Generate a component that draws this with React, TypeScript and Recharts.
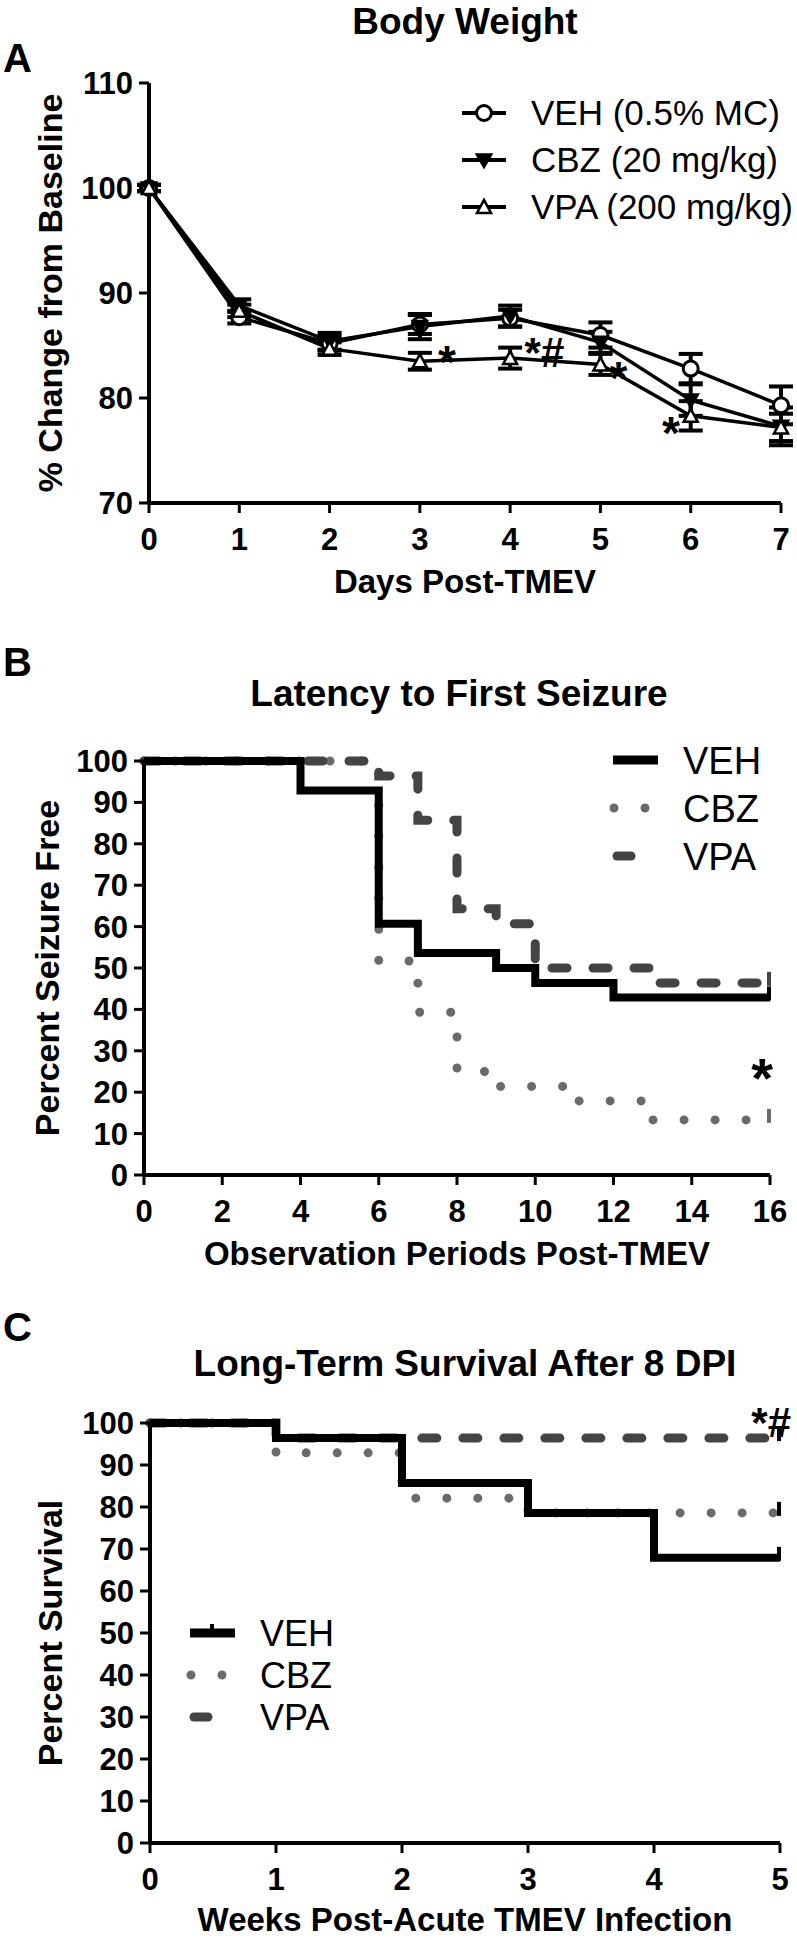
import React from "react";
import { ComposedChart, LineChart, Line, XAxis, YAxis, ErrorBar, Label, Legend, ReferenceDot } from "recharts";

const FONT = '"Liberation Sans", Arial, Helvetica, sans-serif';

// Panel A - body weight
const days = [0, 1, 2, 3, 4, 5, 6, 7];
const vehWeight = [100, 87.7, 85.2, 87.0, 87.6, 86.0, 82.8, 79.3];
const vehWeightErr = [0.3, 0.6, 0.7, 0.9, 0.8, 1.2, 1.4, 1.8];
const cbzWeight = [100, 88.8, 85.4, 86.8, 87.8, 85.3, 79.8, 77.3];
const cbzWeightErr = [0.3, 0.6, 0.8, 1.2, 1.0, 1.0, 1.5, 1.8];
const vpaWeight = [100, 88.3, 84.7, 83.5, 83.8, 83.2, 78.3, 77.2];
const vpaWeightErr = [0.3, 0.6, 0.6, 0.8, 1.0, 1.0, 1.4, 1.3];
const weightTicks = [70, 80, 90, 100, 110];

// Panel B - latency to first seizure (Kaplan-Meier steps)
const periodTicks = [0, 2, 4, 6, 8, 10, 12, 14, 16];
const vehPeriods = [0, 4, 6, 7, 9, 10, 12, 16];
const vehSeizureFree = [100, 92.9, 60.7, 53.6, 50, 46.4, 42.9, 42.9];
const cbzPeriods = [0, 6, 7, 8, 9, 11, 13, 16];
const cbzSeizureFree = [100, 51.7, 39.3, 25, 21.4, 17.9, 13.3, 13.3];
const vpaPeriods = [0, 6, 7, 8, 9, 10, 13, 16];
const vpaSeizureFree = [100, 96.4, 85.7, 64.3, 60.7, 50, 46.4, 46.4];

// Panel C - long-term survival
const weekTicks = [0, 1, 2, 3, 4, 5];
const vehWeeks = [0, 1, 2, 3, 4, 5];
const vehSurvival = [100, 96.4, 85.7, 78.6, 67.9, 67.9];
const cbzWeeks = [0, 1, 2, 3, 5];
const cbzSurvival = [100, 92.9, 82.1, 78.6, 78.6];
const vpaWeeks = [0, 1, 5];
const vpaSurvival = [100, 96.4, 96.4];
const percentTicks = [0, 10, 20, 30, 40, 50, 60, 70, 80, 90, 100];

const weightData = days.map((d, i) => ({
  day: d,
  veh: vehWeight[i], vehErr: vehWeightErr[i],
  cbz: cbzWeight[i], cbzErr: cbzWeightErr[i],
  vpa: vpaWeight[i], vpaErr: vpaWeightErr[i],
}));
const steps = (xs: number[], ys: number[]) => xs.map((t, i) => ({ t, v: ys[i] }));

const GRAY = "#6a6a6a";
const DARK = "#444444";
const tickFont = { fill: "#000", fontSize: 31, fontWeight: 700, fontFamily: FONT };
const axisLine = { stroke: "#000", strokeWidth: 4 };
const tickLine = { stroke: "#000", strokeWidth: 3 };
const DOTTED = "0 31";
const DASHED = "15 26";

const YTitle = (props: any) => {
  const vb = props.viewBox;
  const cy = vb.y + vb.height / 2;
  const cx = props.cx;
  return (
    <text x={cx} y={cy} transform={`rotate(-90 ${cx} ${cy})`} textAnchor="middle" dominantBaseline="central"
      fill="#000" fontSize={34} fontWeight={700} fontFamily={FONT}>{props.text}</text>
  );
};

const star = (txt: string, size: number) => (p: any) => (
  <text x={p.cx} y={p.cy} dy={size * 0.57} textAnchor="middle" fill="#000" fontSize={size} fontWeight={700} fontFamily={FONT}>{txt}</text>
);

// censor tick on the last point of a survival curve
const censorEnd = (n: number, color: string) => (p: any) =>
  p.index === n - 1
    ? <line key={p.index} x1={p.cx - 1} x2={p.cx - 1} y1={p.cy - 11} y2={p.cy + 3} stroke={color} strokeWidth={4} />
    : <g key={p.index} />;

const CircleDot = (p: any) => <circle key={p.index} cx={p.cx} cy={p.cy} r={7.5} fill="#fff" stroke="#000" strokeWidth={3} />;
const DownTri = (p: any) => (
  <path key={p.index} d={`M${p.cx - 8},${p.cy - 6}L${p.cx + 8},${p.cy - 6}L${p.cx},${p.cy + 8}Z`} fill="#000" stroke="#000" strokeWidth={1.5} />
);
const UpTri = (p: any) => (
  <path key={p.index} d={`M${p.cx - 7},${p.cy + 6}L${p.cx + 7},${p.cy + 6}L${p.cx},${p.cy - 7}Z`} fill="#fff" stroke="#000" strokeWidth={2.5} />
);

const weightLegend = () => (
  <svg width={340} height={150}>
    {[
      { name: "VEH (0.5% MC)", Shape: CircleDot },
      { name: "CBZ (20 mg/kg)", Shape: DownTri },
      { name: "VPA (200 mg/kg)", Shape: UpTri },
    ].map((it, i) => (
      <g key={it.name}>
        <line x1={7} x2={51} y1={23 + i * 47} y2={23 + i * 47} stroke="#000" strokeWidth={4} />
        <it.Shape cx={29} cy={23 + i * 47} />
        <text x={76} y={35 + i * 47} fontSize={35} fontFamily={FONT} fill="#000">{it.name}</text>
      </g>
    ))}
  </svg>
);

const kmLegend = (x0: number, gap: number, size: number, tickOnVeh: boolean) => () => (
  <svg width={200} height={150}>
    <line x1={x0} x2={x0 + 45} y1={20} y2={20} stroke="#000" strokeWidth={9} />
    {tickOnVeh && <line x1={x0 + 22} x2={x0 + 22} y1={11} y2={20} stroke="#000" strokeWidth={4} />}
    <line x1={x0 + 1} x2={x0 + 45} y1={20 + gap} y2={20 + gap} stroke={GRAY} strokeWidth={9} strokeLinecap="round" strokeDasharray={DOTTED} />
    <line x1={x0 + 4} x2={x0 + 44} y1={20 + gap * 2} y2={20 + gap * 2} stroke={DARK} strokeWidth={9} strokeLinecap="round" strokeDasharray="14 26" />
    {["VEH", "CBZ", "VPA"].map((n, i) => (
      <text key={n} x={x0 + 70} y={20 + size * 0.36 + i * gap} fontSize={size} fontFamily={FONT} fill="#000">{n}</text>
    ))}
  </svg>
);

function BodyWeightChart() {
  return (
    <ComposedChart width={797} height={620} data={weightData} margin={{ top: 83, right: 16, bottom: 17, left: 0 }}>
      <XAxis dataKey="day" type="number" domain={[0, 7]} ticks={days} interval={0} height={100}
        tick={tickFont} tickSize={10} tickMargin={15} axisLine={axisLine} tickLine={tickLine}>
        <Label value="Days Post-TMEV" position="insideBottom" offset={10} fill="#000" fontSize={33} fontWeight={700} fontFamily={FONT} />
      </XAxis>
      <YAxis type="number" domain={[70, 110]} ticks={weightTicks} interval={0} width={149}
        tick={tickFont} tickSize={10} tickMargin={6} axisLine={axisLine} tickLine={tickLine}>
        <Label content={(p: any) => <YTitle {...p} cx={50} text="% Change from Baseline" />} />
      </YAxis>
      <Line dataKey="veh" stroke="#000" strokeWidth={3.5} dot={CircleDot} isAnimationActive={false}>
        <ErrorBar dataKey="vehErr" width={12} stroke="#000" strokeWidth={4} direction="y" />
      </Line>
      <Line dataKey="cbz" stroke="#000" strokeWidth={3.5} dot={DownTri} isAnimationActive={false}>
        <ErrorBar dataKey="cbzErr" width={12} stroke="#000" strokeWidth={4} direction="y" />
      </Line>
      <Line dataKey="vpa" stroke="#000" strokeWidth={3.5} dot={UpTri} isAnimationActive={false}>
        <ErrorBar dataKey="vpaErr" width={12} stroke="#000" strokeWidth={4} direction="y" />
      </Line>
      <ReferenceDot x={3.3} y={84.4} r={0} ifOverflow="visible" shape={star("*", 46)} />
      <ReferenceDot x={4.38} y={85.2} r={0} ifOverflow="visible" shape={star("*#", 42)} />
      <ReferenceDot x={5.2} y={82.9} r={0} ifOverflow="visible" shape={star("*", 46)} />
      <ReferenceDot x={5.78} y={77.6} r={0} ifOverflow="visible" shape={star("*", 46)} />
      <Legend layout="vertical" align="center" verticalAlign="middle" content={weightLegend}
        wrapperStyle={{ left: 455, top: 90, width: 342 }} />
    </ComposedChart>
  );
}

function LatencyChart() {
  return (
    <LineChart width={797} height={650} margin={{ top: 131, right: 27, bottom: 5, left: 0 }}>
      <XAxis dataKey="t" type="number" domain={[0, 16]} ticks={periodTicks} interval={0} height={100}
        tick={tickFont} tickSize={10} tickMargin={15} axisLine={axisLine} tickLine={tickLine}>
        <Label value="Observation Periods Post-TMEV" position="insideBottom" offset={10} fill="#000" fontSize={33} fontWeight={700} fontFamily={FONT} />
      </XAxis>
      <YAxis type="number" domain={[0, 100]} ticks={percentTicks} interval={0} width={144}
        tick={tickFont} tickSize={10} tickMargin={6} axisLine={axisLine} tickLine={tickLine}>
        <Label content={(p: any) => <YTitle {...p} cx={47} text="Percent Seizure Free" />} />
      </YAxis>
      <Line data={steps(cbzPeriods, cbzSeizureFree)} dataKey="v" type="stepAfter" stroke={GRAY} strokeWidth={9}
        strokeLinecap="round" strokeDasharray={DOTTED} dot={censorEnd(cbzPeriods.length, GRAY)} isAnimationActive={false} />
      <Line data={steps(vpaPeriods, vpaSeizureFree)} dataKey="v" type="stepAfter" stroke={DARK} strokeWidth={9}
        strokeLinecap="round" strokeDasharray={DASHED} dot={censorEnd(vpaPeriods.length, DARK)} isAnimationActive={false} />
      <Line data={steps(vehPeriods, vehSeizureFree)} dataKey="v" type="stepAfter" stroke="#000" strokeWidth={8}
        dot={censorEnd(vehPeriods.length, "#000")} isAnimationActive={false} />
      <ReferenceDot x={15.8} y={26.6} r={0} ifOverflow="visible" shape={star("*", 56)} />
      <Legend layout="vertical" align="center" verticalAlign="middle" content={kmLegend(13, 48, 38, false)}
        wrapperStyle={{ left: 600, top: 110, width: 197 }} />
    </LineChart>
  );
}

function SurvivalChart() {
  return (
    <LineChart width={797} height={650} margin={{ top: 133, right: 17, bottom: 2, left: 0 }}>
      <XAxis dataKey="t" type="number" domain={[0, 5]} ticks={weekTicks} interval={0} height={95}
        tick={tickFont} tickSize={10} tickMargin={15} axisLine={axisLine} tickLine={tickLine}>
        <Label value="Weeks Post-Acute TMEV Infection" position="insideBottom" offset={7} fill="#000" fontSize={33} fontWeight={700} fontFamily={FONT} />
      </XAxis>
      <YAxis type="number" domain={[0, 100]} ticks={percentTicks} interval={0} width={150}
        tick={tickFont} tickSize={10} tickMargin={6} axisLine={axisLine} tickLine={tickLine}>
        <Label content={(p: any) => <YTitle {...p} cx={50} text="Percent Survival" />} />
      </YAxis>
      <Line data={steps(cbzWeeks, cbzSurvival)} dataKey="v" type="stepAfter" stroke={GRAY} strokeWidth={9}
        strokeLinecap="round" strokeDasharray={DOTTED} dot={censorEnd(cbzWeeks.length, "#000")} isAnimationActive={false} />
      <Line data={steps(vpaWeeks, vpaSurvival)} dataKey="v" type="stepAfter" stroke={DARK} strokeWidth={9}
        strokeLinecap="round" strokeDasharray={DASHED} dot={censorEnd(vpaWeeks.length, "#000")} isAnimationActive={false} />
      <Line data={steps(vehWeeks, vehSurvival)} dataKey="v" type="stepAfter" stroke="#000" strokeWidth={8}
        dot={censorEnd(vehWeeks.length, "#000")} isAnimationActive={false} />
      <ReferenceDot x={4.93} y={102.3} r={0} ifOverflow="visible" shape={star("*#", 42)} />
      <Legend layout="vertical" align="center" verticalAlign="middle" content={kmLegend(6, 42, 36, true)}
        wrapperStyle={{ left: 184, top: 323, width: 200 }} />
    </LineChart>
  );
}

export default function App() {
  const head = { fill: "#000", fontWeight: 700, fontFamily: FONT } as const;
  return (
    <div style={{ position: "relative", width: 797, height: 1940, background: "#fff" }}>
      <style>{"body{margin:0;background:#fff}"}</style>
      <div style={{ position: "absolute", left: 0, top: 0 }}><BodyWeightChart /></div>
      <div style={{ position: "absolute", left: 0, top: 630 }}><LatencyChart /></div>
      <div style={{ position: "absolute", left: 0, top: 1290 }}><SurvivalChart /></div>
      <svg width={797} height={1940} style={{ position: "absolute", left: 0, top: 0, pointerEvents: "none" }}>
        <text x={465} y={34} textAnchor="middle" fontSize={37} {...head}>Body Weight</text>
        <text x={459} y={706} textAnchor="middle" fontSize={37} {...head}>Latency to First Seizure</text>
        <text x={465} y={1376} textAnchor="middle" fontSize={37} {...head}>Long-Term Survival After 8 DPI</text>
        <text x={3} y={72} fontSize={40} {...head}>A</text>
        <text x={3} y={676} fontSize={40} {...head}>B</text>
        <text x={3} y={1341} fontSize={40} {...head}>C</text>
      </svg>
    </div>
  );
}
